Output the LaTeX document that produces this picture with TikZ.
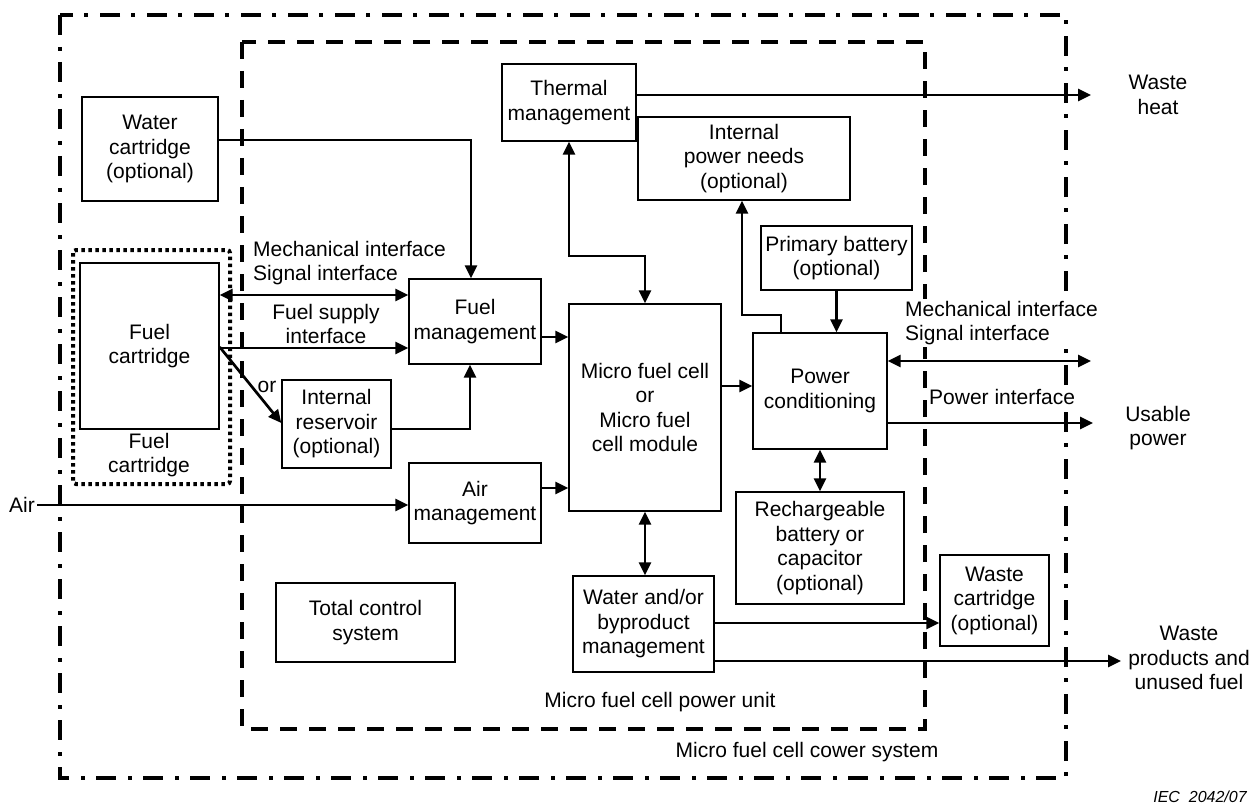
\documentclass[tikz,border=0pt]{standalone}
\usepackage{fontspec}
\setmainfont{Liberation Sans}
\usetikzlibrary{arrows.meta}

\begin{document}
\begin{tikzpicture}[x=1pt,y=-1pt,
	every node/.style={font=\fontsize{21}{24.5}\selectfont,align=center,inner sep=2pt},
	box/.style={draw,line width=1.4pt},
	flow/.style={line width=2.7pt,->},
	dflow/.style={line width=2.7pt,<->},
	>={Triangle[length=13pt,width=12pt]},
	systemline/.style={line width=4pt,dash pattern=on 20pt off 12pt on 4pt off 11pt},
	unitline/.style={line width=4pt,dash pattern=on 17pt off 12pt},
	cartline/.style={line width=4pt,dash pattern=on 3.5pt off 3.5pt}]

	\fill[white] (0,0) rectangle (1260,805);

	\draw[systemline] (60,15) rectangle (1066,778);
	\draw[unitline] (242,42) rectangle (925,729);
	\draw[cartline,rounded corners=3pt] (73,250) rectangle (230,484);

	\node[box, minimum width=136, minimum height=104] (water) at (150,149) {Water\\cartridge\\(optional)};
	\node[box, minimum width=139, minimum height=166] (fuelcart) at (149.5,346) {Fuel\\cartridge};
	\node (fuelcartlbl) at (149,455) {Fuel\\cartridge};
	\node[box, minimum width=134, minimum height=77] (thermal) at (569,102.5) {Thermal\\management};
	\node[box, minimum width=212, minimum height=83] (intpower) at (744,158.5) {Internal\\power needs\\(optional)};
	\node[box, minimum width=132, minimum height=85] (fuelmgmt) at (475,321.5) {Fuel\\management};
	\node[box, minimum width=152, minimum height=207] (mfc) at (645,407.5) {Micro fuel cell\\or\\Micro fuel\\cell module};
	\node[box, minimum width=109, minimum height=88] (reservoir) at (336.5,424) {Internal\\reservoir\\(optional)};
	\node[box, minimum width=132, minimum height=80] (airmgmt) at (475,503) {Air\\management};
	\node[box, minimum width=151, minimum height=64] (primbat) at (836.5,258) {Primary battery\\(optional)};
	\node[box, minimum width=134, minimum height=116] (powercond) at (820,391) {Power\\conditioning};
	\node[box, minimum width=168, minimum height=112] (recharge) at (820,548) {Rechargeable\\battery or\\capacitor\\(optional)};
	\node[box, minimum width=179, minimum height=79] (control) at (365.5,622.5) {Total control\\system};
	\node[box, minimum width=141, minimum height=96] (byproduct) at (643.5,624) {Water and/or\\byproduct\\management};
	\node[box, minimum width=109, minimum height=91] (wastecart) at (994.5,600.5) {Waste\\cartridge\\(optional)};

	\node (air) at (22,505) {Air};
	\node (wasteheat) at (1158,95) {Waste\\heat};
	\node (usable) at (1158,428) {Usable\\power};
	\node (wasteprod) at (1189,658) {Waste\\products and\\unused fuel};
	\node[anchor=west, align=left] (mechleft) at (251,263) {Mechanical interface\\Signal interface};
	\node (fuelsupply) at (326,324) {Fuel supply\\interface};
	\node (orlbl) at (267,387) {or};
	\node[anchor=west, align=left, fill=white] (mechright) at (903,323) {Mechanical interface\\Signal interface};
	\node[anchor=west, fill=white, inner sep=1pt] (powerif) at (928,397) {Power interface};
	\node (unitlbl) at (660,702) {Micro fuel cell power unit};
	\node (systemlbl) at (807,752) {Micro fuel cell cower system};
	\node[font=\fontsize{16}{19}\selectfont\itshape] (iec) at (1200,797) {IEC\ \ 2042/07};

	\coordinate (heatout) at (1091,95);
	\coordinate (sigout) at (1091,361);
	\coordinate (usableout) at (1093,423);
	\coordinate (wasteout) at (1121,661);

	\draw[flow] (water.east |- 0,140) -| (471,0 |- fuelmgmt.north);
	\draw[dflow] (fuelcart.east |- 0,295) -- (fuelmgmt.west |- 0,295);
	\draw[flow] (fuelcart.east |- 0,348) -- (fuelmgmt.west |- 0,348);
	\draw[flow] (fuelcart.east |- 0,347) -- (reservoir.west |- 0,423);
	\draw[flow] (reservoir.east |- 0,429) -| (470,0 |- fuelmgmt.south);
	\draw[flow] (fuelmgmt.east |- 0,337) -- (mfc.west |- 0,337);
	\draw[flow] (air.east) -- (airmgmt.west |- air.east);
	\draw[flow] (airmgmt.east |- 0,488) -- (mfc.west |- 0,488);
	\draw[dflow] (thermal.south) -- (thermal.south |- 0,256) -| (mfc.north);
	\draw[flow] (thermal.east |- heatout) -- (heatout);
	\draw[flow] (mfc.east |- 0,386) -- (powercond.west |- 0,386);
	\draw[flow] (primbat.south) -- (powercond.north -| primbat.south);
	\draw[flow] (781,0 |- powercond.north) -- (781,315) -| (742,0 |- intpower.south);
	\draw[dflow] (powercond.east |- sigout) -- (sigout);
	\draw[flow] (powercond.east |- usableout) -- (usableout);
	\draw[dflow] (powercond.south) -- (recharge.north);
	\draw[dflow] (mfc.south) -- (byproduct.north -| mfc.south);
	\draw[flow] (byproduct.east |- 0,623) -- (wastecart.west |- 0,623);
	\draw[flow] (byproduct.east |- wasteout) -- (wasteout);
\end{tikzpicture}
\end{document}
